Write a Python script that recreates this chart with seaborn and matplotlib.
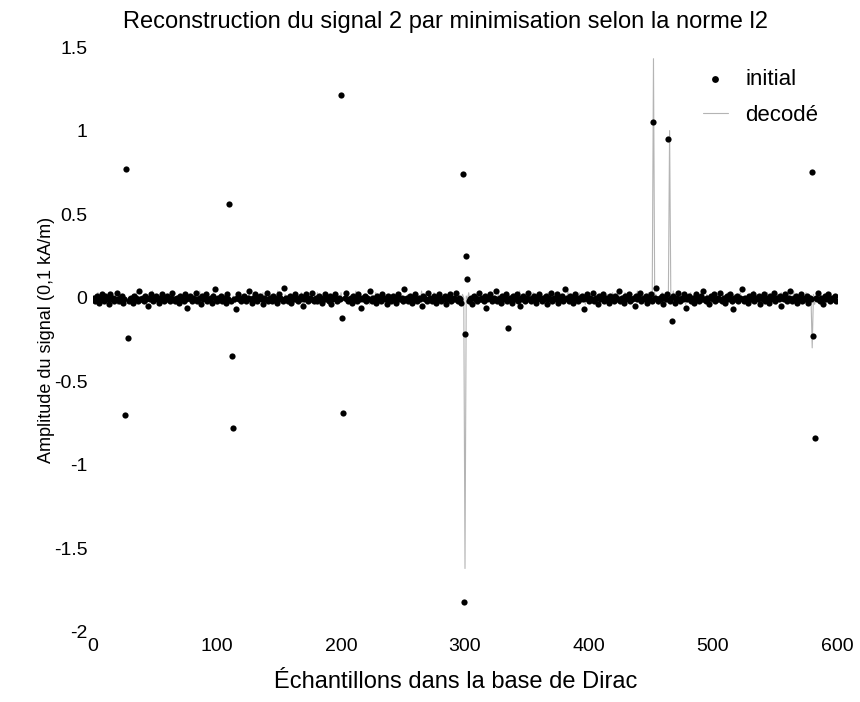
import numpy as np
import pandas as pd
import matplotlib
matplotlib.use("Agg")
import matplotlib.pyplot as plt
import seaborn as sns

# Background noise of the original signal, in hundredths of 0.1 kA/m
initial_noise = [
    -1, 0, -2, 1, -1, -3, 0, 2, -1, -2, 1, 0, -1, -4, 2, -1, 0, -2, -1, 3, -1, -2, 0, 1, -3, -1, 0, -1, 2, -2, -1, 0, -3, 1, -1, 0, -2, 4, -1, -1, 0, -2, 1, -1, -5, 0, -1, 2, -2, -1, 0, 1, -1, -3, 0, -1, 2, -2, 0, -1,
    1, -1, -2, 0, 3, -1, -2, -1, 0, -3, 1, 0, -1, -2, 2, -1, -6, 0, 1, -1, -2, 0, -1, 3, -2, -1, 0, -4, 1, -1, 0, 2, -2, -1, -1, 0, -3, 1, 5, -1, -2, 0, -1, 1, -2, -1, 0, -3, 2, -1, 0, -2, -1, 1, -1, -7, 0, 2, -1, -2,
    0, -1, 1, -2, -1, 0, 4, -1, -3, 0, -1, 2, -2, -1, 0, 1, -1, -4, 0, -1, 3, -2, -1, 0, -2, 1, -1, 0, -3, -1, 2, 0, -1, -2, 6, -1, 0, -2, -1, 1, -3, 0, -1, 2, -1, -2, 0, -1, 1, -5, -1, 0, 2, -2, -1, 0, -1, 3, -2, -1,
    0, -2, 1, -1, 0, -3, -1, 2, -1, 0, -2, 1, -4, -1, 0, 2, -1, -2, 0, -1, 1, -2, -1, 0, 3, -1, -2, -1, 0, -3, 1, -1, 0, -2, 2, -1, -6, 0, -1, 1, -2, 0, -1, 4, -1, -2, 0, -1, -3, 1, 0, -1, -2, 2, -1, 0, -1, -4, 1, -1,
    -2, 0, 1, -1, -3, 0, 2, -1, -1, 0, -2, 5, -1, 0, -2, -1, 1, -3, 0, -1, 2, -2, -1, 0, -1, -5, 1, 0, -1, -2, 3, -1, 0, -2, -1, 1, -1, -3, 0, 2, -1, -2, 0, -1, 1, -4, -1, 0, 2, -2, -1, 0, -1, 3, -2, 0, -1, -3, 1, -1,
    0, -1, 2, -2, -1, 0, -4, 1, -1, 0, -2, 3, -1, -1, 0, -2, 1, -6, -1, 0, 2, -1, -2, 0, -1, 4, -2, -1, 0, -3, 1, -1, 0, 2, -2, -1, 0, -1, -3, 1, -1, 0, 2, -2, -5, 0, -1, 1, -2, -1, 0, 3, -1, -2, 0, -1, 1, -3, -1, 0,
    2, -1, -2, 0, -1, 1, -4, -1, 0, 3, -2, -1, 0, -1, 2, -3, -1, 0, 1, -2, -1, 5, 0, -1, -2, 1, -1, -3, 0, 2, -1, -2, 0, -1, 1, -1, -7, 0, 2, -1, -2, 0, -1, 3, -2, -1, 0, -4, 1, -1, 0, 2, -2, -1, 0, -1, -3, 1, 0, -1,
    -2, 1, 0, -1, 4, -2, -1, 0, -3, 1, -1, 0, 2, -2, -1, -1, 0, -5, 1, -1, 0, 3, -2, -1, 0, -1, 1, -3, 0, -1, 2, -2, -1, 0, 6, -1, -2, 0, -1, 1, -4, 0, -1, 2, -1, -2, 0, -1, 1, -3, -1, 0, 3, -2, -1, 0, -1, 2, -6, -1,
    0, 1, -2, -1, 0, -3, 2, -1, 0, -2, 1, -1, 4, -1, -2, 0, -1, -4, 1, 0, -1, 2, -2, -1, 0, -1, 3, -2, -1, 0, -3, 1, -1, 0, 2, -2, -7, 0, -1, 1, -2, -1, 0, 5, -1, -2, 0, -1, -3, 1, 0, -1, 2, -2, -1, 0, -1, 1, -4, 0,
    -1, 2, -2, -1, 0, -3, 1, -1, 0, 3, -2, -1, 0, -1, 1, -5, 0, -1, 2, -1, -2, 0, 4, -1, -2, 0, -1, 1, -3, -1, 0, 2, -2, -1, 0, -1, 1, -3, 0, -1, 2, -2, -1, 0, -1, 3, -2, 0, -1, -4, 1, -1, 0, 2, -2, -1, 0, -1, 1, -2,
]

# Isolated samples of the original signal
initial_spike_idx = [26, 27, 28, 110, 112, 113, 200, 201, 202, 298, 299, 300, 301, 302, 335, 452, 464, 467, 580, 581, 582]
initial_spike_val = [-0.70, 0.77, -0.24, 0.56, -0.35, -0.78, 1.21, -0.12, -0.69, 0.74, -1.82, -0.22, 0.25, 0.11, -0.18, 1.05, 0.95, -0.14, 0.75, -0.23, -0.84]

# Reconstruction residue around zero, in hundredths
decoded_noise = [
    1, -2, 0, -1, 3, -3, -1, 0, 2, -1, -2, 1, -1, 0, -3, 2, -1, 0, 1, -2, -4, 0, 2, -1, -1, 1, -2, 0, -3, 1, 0, -1, 2, -2, -1, 3, -1, 0, -2, 1, -1, -3, 2, 0, -1, -2, 1, -1, 4, -2, -1, 0, -3, 1, -1, 2, 0, -2, -1, 1,
    -3, 0, 2, -1, -2, 1, 0, -4, 1, -1, 2, -2, 0, -1, 3, -3, 0, 1, -1, -2, 2, -1, 0, -3, 1, -2, 4, -1, 0, -2, 1, -1, -3, 2, 0, -1, -2, 3, -1, 0, -4, 1, -1, 2, -2, 0, -1, 1, -3, 0, 2, -2, -1, 1, 0, -3, 2, -1, -2, 0,
    2, -1, -3, 1, 0, -2, 3, -1, -1, 0, -4, 2, -1, 1, -2, 0, -1, 3, -3, 0, 1, -2, -1, 2, 0, -3, 1, -1, 0, 4, -2, -1, 1, -3, 0, 2, -1, -2, 1, 0, -1, -3, 2, -1, 0, 1, -2, -1, 3, -4, 0, 1, -1, -2, 2, 0, -3, 1, -1, 0,
    -1, 3, -2, 0, -1, 1, -3, 2, -1, 0, -2, 1, 0, -4, 2, -1, 1, -2, 0, -3, 3, -1, 0, -2, 1, -1, 2, -3, 0, 1, -2, -1, 4, -1, 0, -3, 1, -2, 0, 2, -1, -1, 1, -4, 0, 2, -2, -1, 3, 0, -1, -2, 1, -3, 0, 2, -1, 0, -2, 1,
    0, -3, 2, -1, 1, -2, 0, -1, 3, -2, -4, 1, 0, -1, 2, -3, 0, 1, -2, -1, 2, 0, -3, 1, -1, 4, -2, 0, -1, 1, -3, 2, 0, -2, -1, 3, -1, 0, -4, 1, 2, -2, -1, 0, 1, -3, 2, -1, 0, -2, 1, -1, 3, -3, 0, 1, -2, -1, 2, 0,
    -2, 1, -1, 3, -3, 0, 2, -1, -2, 1, 0, -4, 2, -1, 0, 1, -3, 2, -1, -1, 0, 3, -2, 1, -1, -3, 0, 2, -2, 1, -1, 0, -4, 3, -1, 0, 1, -2, -1, 2, -3, 0, 1, -1, 4, -2, 0, -1, 1, -3, 2, -1, 0, -2, 1, 3, -1, -3, 0, 1,
    -1, 2, -3, 0, 1, -2, -1, 3, 0, -4, 1, -1, 2, -2, 0, 1, -3, -1, 2, 0, -2, 1, -1, 4, -3, 0, 2, -1, -2, 1, 0, -3, 3, -1, -1, 0, 2, -4, 1, -1, 0, 2, -2, -1, 3, -3, 0, 1, -1, -2, 2, 0, -1, 1, -3, 2, -1, 0, -2, 3,
    1, -2, 0, -3, 2, -1, 1, -1, -4, 3, 0, -2, 1, -1, 2, -3, 0, 1, -2, 4, -1, 0, -3, 2, -1, 1, -2, 0, 3, -3, -1, 1, 0, -2, 2, -1, -4, 1, 0, 3, -2, -1, 1, -3, 0, 2, -1, -1, 4, -2, 0, -3, 1, -1, 2, 0, -2, 1, -4, 2,
    -1, 0, 3, -2, 1, -3, 0, 2, -1, -2, 1, 4, -3, 0, -1, 2, -2, 1, 0, -4, 3, -1, -1, 2, 0, -3, 1, -2, 2, 0, -1, -3, 3, 1, -2, 0, -4, 2, -1, 1, -2, 0, 3, -1, -3, 1, 0, -2, 2, -1, 1, -3, 0, 4, -2, -1, 1, 0, -3, 2,
    0, -2, 1, -1, 3, -3, 2, 0, -1, -2, 1, -4, 2, 0, -1, 3, -2, 1, -1, 0, -3, 2, -1, 1, -2, 4, 0, -3, 1, -1, 2, -2, 0, 1, -3, 3, -1, 0, -2, 1, -1, 2, -4, 0, 3, -2, 1, -1, 0, -3, 2, -1, 1, -2, 0, 3, -1, -2, 1, 0,
]

decoded_spike_idx = [300, 452, 465, 580]
decoded_spike_val = [-1.62, 1.43, 1.00, -0.30]

y_ticks = [-2, -1.5, -1, -0.5, 0, 0.5, 1, 1.5]
y_tick_labels = ["-2", "-1.5", "-1", "-0.5", "0", "0.5", "1", "1.5"]
x_ticks = [0, 100, 200, 300, 400, 500, 600]

# Assemble the two series
initial = np.array(initial_noise, dtype=float) / 100.0
initial[initial_spike_idx] = initial_spike_val
decoded = np.array(decoded_noise, dtype=float) / 100.0
decoded[decoded_spike_idx] = decoded_spike_val

df_init = pd.DataFrame({"n": np.arange(len(initial)), "amp": initial})
df_dec = pd.DataFrame({"n": np.arange(len(decoded)), "amp": decoded})

sns.set_style("white")
plt.rcParams["font.family"] = ["Liberation Sans", "DejaVu Sans"]
plt.rcParams["text.color"] = "black"
plt.rcParams["axes.labelcolor"] = "black"

fig = plt.figure(figsize=(8.6, 7.02), dpi=100)
ax = fig.add_axes([93 / 860, 1 - 632 / 702, 744 / 860, 585 / 702])

sns.lineplot(data=df_dec, x="n", y="amp", ax=ax, color="#b4b4b4",
             linewidth=0.8, label="decodé", zorder=1)
sns.scatterplot(data=df_init, x="n", y="amp", ax=ax, color="black",
                s=20, linewidth=0, marker="o", label="initial", zorder=2)

ax.set_xlim(0, 600)
ax.set_ylim(-2, 1.5)
ax.set_xticks(x_ticks)
ax.set_xticklabels([str(t) for t in x_ticks])
ax.set_yticks(y_ticks)
ax.set_yticklabels(y_tick_labels)
ax.tick_params(axis="both", length=0, labelsize=14, pad=4, colors="black")
for s in ax.spines.values():
    s.set_visible(False)

ax.set_title("Reconstruction du signal 2 par minimisation selon la norme l2",
             fontsize=17, pad=14, x=0.474, color="black")
ax.set_xlabel("Échantillons dans la base de Dirac", fontsize=17, labelpad=12,
              x=0.488)
ax.set_ylabel("Amplitude du signal (0,1 kA/m)", fontsize=13, labelpad=-1)

handles, labels = ax.get_legend_handles_labels()
order = [labels.index("initial"), labels.index("decodé")]
leg = ax.legend([handles[i] for i in order], [labels[i] for i in order],
                loc="upper left", bbox_to_anchor=(692 / 860, 1 - 58 / 702),
                bbox_transform=fig.transFigure, frameon=False, fontsize=16,
                handlelength=1.1, handletextpad=0.8, labelspacing=0.68,
                borderpad=0, markerscale=1.1)
for t in leg.get_texts():
    t.set_color("black")

fig.savefig("out.png", dpi=100, facecolor="white")
